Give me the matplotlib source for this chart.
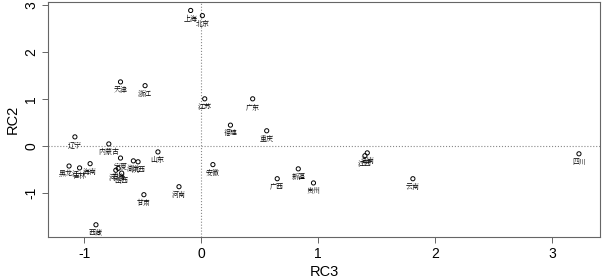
import matplotlib
matplotlib.use('Agg')
import matplotlib.pyplot as plt

plt.rcParams['axes.unicode_minus'] = False

provinces = ['上海', '北京', '江苏', '广东', '天津', '浙江', '福建', '重庆',
             '辽宁', '内蒙古', '山东', '黑龙江', '吉林', '海南', '宁夏', '湖北',
             '陕西', '青海', '山西', '河北', '甘肃', '河南', '西藏', '安徽',
             '广西', '新疆', '贵州', '湖南', '江西', '云南', '四川']
rc3 = [-0.09, 0.01, 0.03, 0.44, -0.69, -0.48, 0.25, 0.56,
       -1.08, -0.79, -0.37, -1.13, -1.04, -0.95, -0.69, -0.58,
       -0.54, -0.71, -0.68, -0.73, -0.49, -0.19, -0.90, 0.10,
       0.65, 0.83, 0.96, 1.42, 1.40, 1.81, 3.23]
rc2 = [2.88, 2.77, 1.00, 1.00, 1.36, 1.28, 0.44, 0.32,
       0.19, 0.04, -0.13, -0.43, -0.47, -0.38, -0.26, -0.32,
       -0.34, -0.48, -0.58, -0.52, -1.04, -0.87, -1.68, -0.40,
       -0.70, -0.49, -0.79, -0.15, -0.21, -0.70, -0.17]
ticks = [-1, 0, 1, 2, 3]
tick_labels = ['-1', '0', '1', '2', '3']

fig = plt.figure(figsize=(6.02, 2.8), dpi=100)
ax = fig.add_axes([48/602, 43/280, 552/602, 235/280])
ax.scatter(rc3, rc2, s=9, facecolors='none', edgecolors='black', linewidths=0.7, zorder=3)
for name, x, y in zip(provinces, rc3, rc2):
    ax.annotate(name, (x, y), xytext=(0, -3), textcoords='offset points',
                ha='center', va='top', fontsize=5,
                family=['Noto Serif CJK SC', 'Noto Sans CJK SC', 'DejaVu Sans'])
ax.axhline(0, color='#888888', ls=':', lw=0.8, zorder=1)
ax.axvline(0, color='#888888', ls=':', lw=0.8, zorder=1)

ax.set_xlim(-1.31, 3.41)
ax.set_ylim(-1.94, 3.06)
ax.set_xticks(ticks, labels=tick_labels, fontsize=10, family='Liberation Sans')
ax.set_yticks(ticks, labels=tick_labels, fontsize=10, family='Liberation Sans',
              rotation=90, va='center', ha='right', rotation_mode='default')
for sp in ax.spines.values():
    sp.set_color('#666666')
    sp.set_linewidth(0.8)
ax.tick_params(direction='out', length=4, width=0.7, color='#666666', pad=3)
ax.set_xlabel('RC3', fontsize=10.5, family='Liberation Sans', labelpad=3)
ax.set_ylabel('RC2', fontsize=10.5, family='Liberation Sans', labelpad=3.5)
fig.savefig('out.png', dpi=100)
